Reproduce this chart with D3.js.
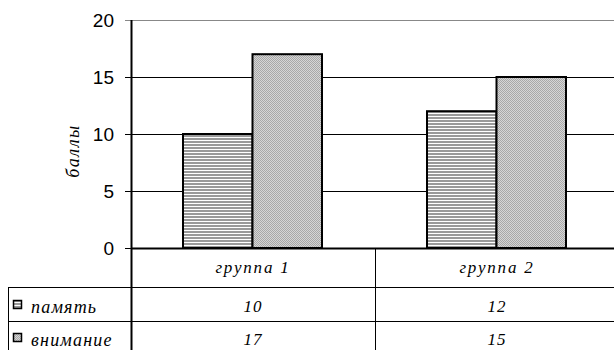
<!DOCTYPE html>
<html>
<head>
<meta charset="utf-8">
<script src="https://cdn.jsdelivr.net/npm/d3@7"></script>
<style>
  body { margin: 0; background: #fff; }
  svg { display: block; }
</style>
</head>
<body>
<script>
// данные
const GROUPS = ['группа 1', 'группа 2']
const SERIES = ['память', 'внимание']
const MEMORY = [10, 12]
const ATTENTION = [17, 15]
const Y_TICKS = [0, 5, 10, 15, 20]

const WIDTH = 614
const HEIGHT = 350
const PLOT = { left: 131, right: 619, top: 20, bottom: 248 }
const ROWS = [248, 287, 321]
const TABLE_LEFT = 8
const SANS = "'Liberation Sans', Arial, sans-serif"
const SERIF = "'Liberation Serif', 'Times New Roman', serif"

const svg = d3.select('body').append('svg')
  .attr('width', WIDTH)
  .attr('height', HEIGHT)

// motifs de remplissage
const defs = svg.append('defs')
const stripes = defs.append('pattern')
  .attr('id', 'stripes').attr('patternUnits', 'userSpaceOnUse')
  .attr('width', 4).attr('height', 3)
stripes.append('rect').attr('width', 4).attr('height', 3).attr('fill', '#fff')
stripes.append('rect').attr('width', 4).attr('height', 2).attr('fill', '#9a9a9a')

const dots = defs.append('pattern')
  .attr('id', 'dots').attr('patternUnits', 'userSpaceOnUse')
  .attr('width', 2).attr('height', 2)
dots.append('rect').attr('width', 2).attr('height', 2).attr('fill', '#d6d6d6')
dots.append('rect').attr('width', 1).attr('height', 1).attr('fill', '#a8a8a8')
dots.append('rect').attr('x', 1).attr('y', 1).attr('width', 1).attr('height', 1).attr('fill', '#a8a8a8')

const FILLS = ['url(#stripes)', 'url(#dots)']

const y = d3.scaleLinear().domain([0, 20]).range([PLOT.bottom, PLOT.top])
const x0 = d3.scaleBand().domain(GROUPS).range([PLOT.left, PLOT.right])
const x1 = d3.scaleBand().domain(SERIES).range([52, 191])

// grille
svg.append('g').selectAll('line')
  .data(Y_TICKS)
  .join('line')
  .attr('x1', PLOT.left - 6).attr('x2', PLOT.right)
  .attr('y1', d => y(d) + 0.5).attr('y2', d => y(d) + 0.5)
  .attr('stroke', d => d === 20 ? '#888' : '#000')

// axe y
const yAxis = svg.append('g')
  .attr('transform', `translate(${PLOT.left - 6},0)`)
  .call(d3.axisLeft(y).tickValues(Y_TICKS).tickSize(0).tickPadding(11))
yAxis.select('.domain').remove()
yAxis.selectAll('text')
  .attr('font-family', SANS)
  .attr('font-size', 19)
  .attr('dy', '0.34em')
  .attr('fill', '#000')

svg.append('text')
  .attr('transform', `translate(79,151) rotate(-90)`)
  .attr('text-anchor', 'middle')
  .attr('font-family', SERIF).attr('font-style', 'italic')
  .attr('font-size', 18).attr('letter-spacing', 1.5)
  .text('баллы')

// bâtons
const VALUES = [MEMORY, ATTENTION]
SERIES.forEach((s, si) => {
  svg.append('g').selectAll('rect')
    .data(GROUPS)
    .join('rect')
    .attr('x', (g) => x0(g) + x1(s))
    .attr('y', (g, i) => y(VALUES[si][i]))
    .attr('width', x1.bandwidth())
    .attr('height', (g, i) => y(0) - y(VALUES[si][i]))
    .attr('fill', FILLS[si])
    .attr('stroke', '#000')
    .attr('stroke-width', 2)
})

// tableau de données
const table = svg.append('g').attr('stroke', '#000').attr('stroke-width', 1)
table.append('line')
  .attr('x1', PLOT.left + 0.5).attr('x2', PLOT.left + 0.5)
  .attr('y1', PLOT.top).attr('y2', HEIGHT)
  .attr('stroke-width', 2)
table.selectAll('.sep')
  .data(GROUPS.slice(1))
  .join('line')
  .attr('x1', d => x0(d) + 0.5).attr('x2', d => x0(d) + 0.5)
  .attr('y1', ROWS[0]).attr('y2', HEIGHT)
table.append('line')
  .attr('x1', PLOT.left).attr('x2', WIDTH)
  .attr('y1', ROWS[0] + 0.5).attr('y2', ROWS[0] + 0.5)
  .attr('stroke-width', 2)
table.selectAll('.row')
  .data(ROWS.slice(1))
  .join('line')
  .attr('x1', TABLE_LEFT).attr('x2', WIDTH)
  .attr('y1', d => d + 0.5).attr('y2', d => d + 0.5)
table.append('line')
  .attr('x1', TABLE_LEFT + 0.5).attr('x2', TABLE_LEFT + 0.5)
  .attr('y1', ROWS[1]).attr('y2', HEIGHT)

svg.append('g').selectAll('text')
  .data(GROUPS)
  .join('text')
  .attr('x', d => x0(d) + x0.bandwidth() / 2)
  .attr('y', 273)
  .attr('text-anchor', 'middle')
  .attr('font-family', SERIF).attr('font-style', 'italic')
  .attr('font-size', 17).attr('letter-spacing', 1.8)
  .text(d => d)

const BASELINES = [312, 345]
SERIES.forEach((s, si) => {
  const base = BASELINES[si]
  svg.append('rect')
    .attr('x', 13.5).attr('y', base - 11.5)
    .attr('width', 8).attr('height', 8)
    .attr('fill', FILLS[si]).attr('stroke', '#000').attr('stroke-width', 1.5)
  svg.append('text')
    .attr('x', 31).attr('y', base + 1)
    .attr('font-family', SERIF).attr('font-style', 'italic')
    .attr('font-size', 18).attr('letter-spacing', 1.2)
    .text(s)
  svg.append('g').selectAll('text')
    .data(GROUPS)
    .join('text')
    .attr('x', d => x0(d) + x0.bandwidth() / 2)
    .attr('y', base)
    .attr('text-anchor', 'middle')
    .attr('font-family', SERIF).attr('font-style', 'italic')
    .attr('font-size', 17).attr('letter-spacing', 1)
    .text((d, i) => VALUES[si][i])
})
</script>
</body>
</html>
